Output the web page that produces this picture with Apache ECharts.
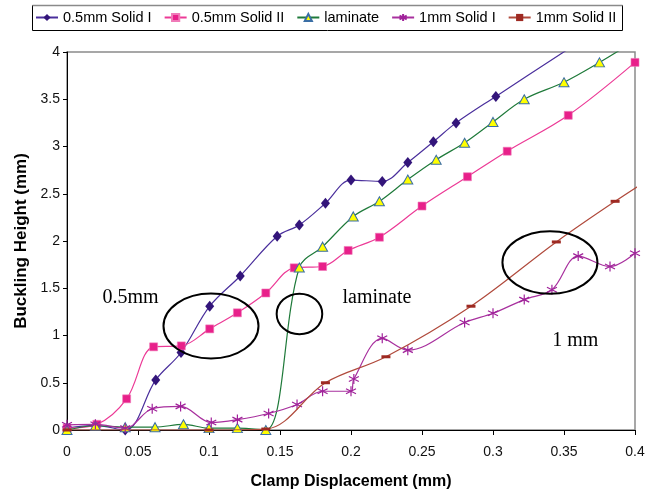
<!DOCTYPE html>
<html>
<head>
<meta charset="utf-8">
<script src="https://cdn.jsdelivr.net/npm/echarts@6/dist/echarts.min.js"></script>
<style>
  html, body { margin: 0; padding: 0; background: #ffffff; }
  #chart { width: 655px; height: 495px; }
</style>
</head>
<body>
<div id="chart"></div>
<script>
// Buckling height versus clamp displacement for three specimen types.
const seriesNames = ['0.5mm Solid I', '0.5mm Solid II', 'laminate', '1mm Solid I', '1mm Solid II'];

// [clamp displacement (mm), buckling height (mm)]
const solidHalfI = [
  [0, 0.02], [0.02, 0.05], [0.041, 0.0], [0.0625, 0.53], [0.0803, 0.82], [0.1005, 1.31],
  [0.122, 1.63], [0.148, 2.05], [0.1636, 2.17], [0.182, 2.40], [0.2, 2.645], [0.222, 2.63],
  [0.240, 2.83], [0.258, 3.05], [0.274, 3.25], [0.302, 3.53], [0.36, 4.10]
];
const solidHalfII = [
  [0, 0.02], [0.021, 0.06], [0.042, 0.33], [0.061, 0.88], [0.0805, 0.89], [0.1005, 1.07],
  [0.120, 1.24], [0.140, 1.45], [0.160, 1.716], [0.180, 1.73], [0.198, 1.90], [0.22, 2.04],
  [0.250, 2.37], [0.282, 2.68], [0.310, 2.95], [0.353, 3.33], [0.400, 3.89]
];
const laminate = [
  [0, 0.0], [0.02, 0.045], [0.041, 0.03], [0.062, 0.03], [0.082, 0.06], [0.1, 0.02],
  [0.12, 0.02], [0.140, 0.0], [0.1636, 1.72], [0.180, 1.94], [0.2016, 2.26], [0.22, 2.42],
  [0.24, 2.65], [0.26, 2.86], [0.28, 3.04], [0.30, 3.26], [0.322, 3.50], [0.35, 3.68],
  [0.375, 3.89], [0.4, 4.12]
];
const solidOneI = [
  [0, 0.055], [0.02, 0.06], [0.041, 0.02], [0.060, 0.225], [0.080, 0.25], [0.1016, 0.08],
  [0.120, 0.11], [0.142, 0.175], [0.162, 0.27], [0.180, 0.41], [0.2, 0.41], [0.202, 0.54],
  [0.222, 0.97], [0.240, 0.845], [0.280, 1.137], [0.300, 1.235], [0.322, 1.38],
  [0.3415, 1.484], [0.360, 1.84], [0.3824, 1.73], [0.400, 1.87]
];
const solidOneII = [
  [0, 0.0], [0.1, 0.0], [0.14, 0.01], [0.182, 0.50], [0.2246, 0.775], [0.2845, 1.31],
  [0.3446, 1.99], [0.386, 2.42], [0.42, 2.75]
];

// Axis ranges and tick steps
const xRange = [0, 0.4];
const xStep = 0.05;
const yRange = [0, 4];
const yStep = 0.5;

// Free-text notes and the circles drawn around the regions they refer to
const noteTexts = ['0.5mm', 'laminate', '1 mm'];
const noteAnchors = [[0.0447, 1.40], [0.2183, 1.40], [0.358, 0.947]];
const ringCentres = [[0.1014, 1.10], [0.1637, 1.228], [0.3401, 1.772]];

const chart = echarts.init(document.getElementById('chart'), null, { renderer: 'canvas' });

const starPath = 'path://M5,0 L5,10 M0.7,2.5 L9.3,7.5 M0.7,7.5 L9.3,2.5';

function lineSeries(name, data, color, symbol, size, itemStyle, z) {
  return {
    name: name,
    type: 'line',
    data: data,
    smooth: 0.35,
    clip: true,
    symbol: symbol,
    symbolSize: size,
    showSymbol: true,
    z: z,
    lineStyle: { color: color, width: 1.2 },
    itemStyle: itemStyle,
    emphasis: { disabled: true },
    animation: false
  };
}

const option = {
  animation: false,
  backgroundColor: '#ffffff',
  grid: {
    left: 67, right: 20, top: 52, bottom: 63,
    show: true, borderColor: '#8a8a8a', borderWidth: 1.5, backgroundColor: 'transparent'
  },
  legend: {
    left: 35, top: 10,
    itemWidth: 22, itemHeight: 9, itemGap: 12,
    padding: 0,
    textStyle: { fontFamily: 'Liberation Sans, Arial, sans-serif', fontSize: 14.5, color: '#000' },
    data: seriesNames
  },
  xAxis: {
    type: 'value',
    min: xRange[0], max: xRange[1], interval: xStep,
    name: 'Clamp Displacement (mm)',
    nameLocation: 'middle', nameGap: 44,
    nameTextStyle: { fontFamily: 'Liberation Sans, Arial, sans-serif', fontSize: 16, fontWeight: 'bold', color: '#000' },
    axisLine: { show: true, onZero: false, lineStyle: { color: '#000', width: 1 } },
    axisTick: { show: true, inside: false, length: 5, lineStyle: { color: '#000' } },
    axisLabel: { margin: 15, fontFamily: 'Liberation Sans, Arial, sans-serif', fontSize: 14, color: '#111' },
    splitLine: { show: false }
  },
  yAxis: {
    type: 'value',
    min: yRange[0], max: yRange[1], interval: yStep,
    name: 'Buckling Height (mm)',
    nameLocation: 'middle', nameGap: 36, nameRotate: 90,
    nameTextStyle: { fontFamily: 'Liberation Sans, Arial, sans-serif', fontSize: 17, fontWeight: 'bold', color: '#000' },
    axisLine: { show: true, onZero: false, lineStyle: { color: '#000', width: 1 } },
    axisTick: { show: true, inside: false, length: 4, lineStyle: { color: '#000' } },
    axisLabel: { margin: 7, fontFamily: 'Liberation Sans, Arial, sans-serif', fontSize: 14, color: '#111' },
    splitLine: { show: false }
  },
  series: [
    lineSeries(seriesNames[0], solidHalfI, '#4a2f9c', 'diamond', [9, 11],
      { color: '#33157a', borderColor: '#33157a', borderWidth: 0 }, 2),
    lineSeries(seriesNames[1], solidHalfII, '#ec3a96', 'rect', 8,
      { color: '#e8208a', borderColor: '#f07ab8', borderWidth: 0.6 }, 3),
    lineSeries(seriesNames[2], laminate, '#1f7a3a', 'triangle', [10, 9],
      { color: '#ffff00', borderColor: '#3a6ea5', borderWidth: 1 }, 4),
    lineSeries(seriesNames[3], solidOneI, '#a8309e', starPath, 10,
      { color: '#a0229a', borderColor: '#a0229a', borderWidth: 1.2 }, 5),
    lineSeries(seriesNames[4], solidOneII, '#b04a3c', 'rect', [9, 3],
      { color: '#9e2a22', borderColor: '#9e2a22', borderWidth: 0 }, 6)
  ]
};

chart.setOption(option);

// Legend frame, notes and rings are placed after the axes exist so the
// notes can be anchored in data coordinates.
const toPx = (p) => chart.convertToPixel({ gridIndex: 0 }, p);
const ringRadii = [[47.5, 32.5], [22.8, 20.3], [47.5, 31.3]];

const graphics = [
  {
    type: 'rect', z: 0, silent: true,
    shape: { x: 32.5, y: 5.5, width: 590, height: 25 },
    style: { fill: '#ffffff', stroke: '#000', lineWidth: 1 }
  },
  {
    type: 'line', z: 1, silent: true,
    shape: { x1: 32.5, y1: 5.5, x2: 622.5, y2: 5.5 },
    style: { stroke: '#8a8a8a', lineWidth: 1.5 }
  }
];

ringCentres.forEach((c, i) => {
  const p = toPx(c);
  graphics.push({
    type: 'ellipse', z: 50, silent: true,
    shape: { cx: p[0], cy: p[1], rx: ringRadii[i][0], ry: ringRadii[i][1] },
    style: { fill: 'none', stroke: '#000', lineWidth: 2 }
  });
});

noteTexts.forEach((t, i) => {
  const p = toPx(noteAnchors[i]);
  graphics.push({
    type: 'text', z: 50, silent: true,
    x: p[0], y: p[1],
    style: {
      text: t, fill: '#000',
      font: '20px "Liberation Serif", "Times New Roman", serif',
      align: 'center', verticalAlign: 'middle'
    }
  });
});

chart.setOption({ graphic: graphics });
</script>
</body>
</html>
